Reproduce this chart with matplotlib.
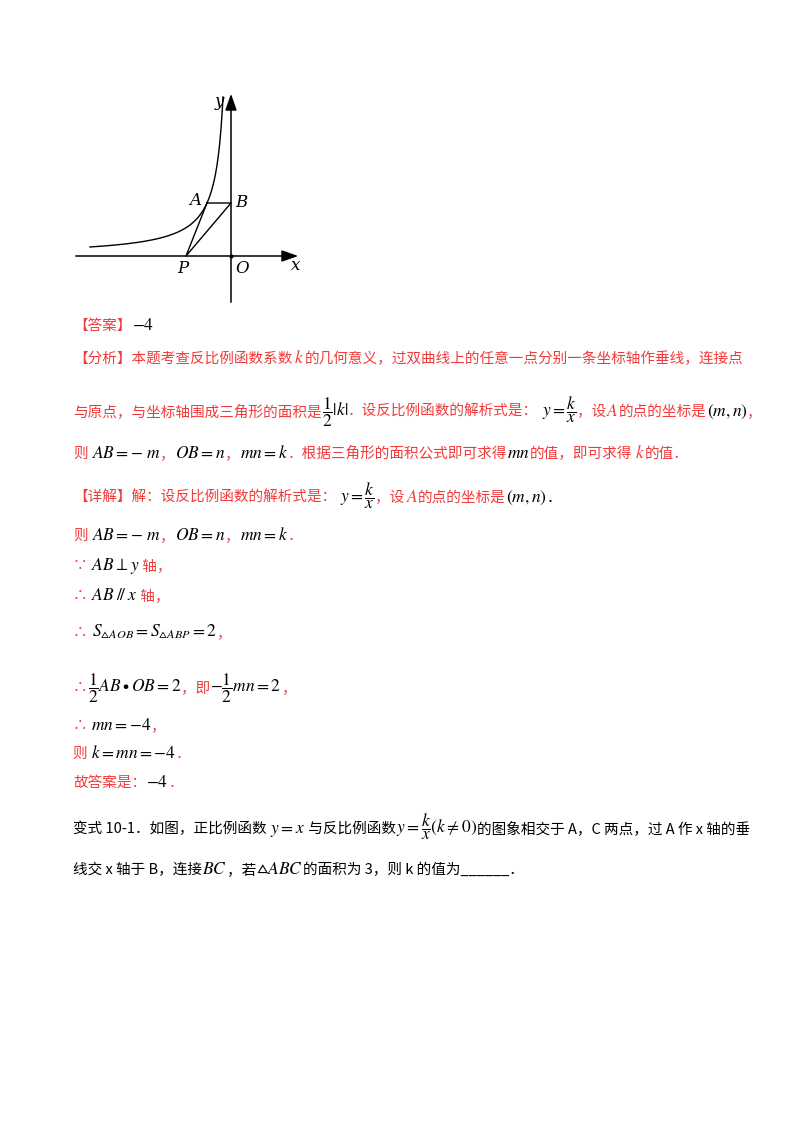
import numpy as np
import matplotlib
matplotlib.use("Agg")
import matplotlib.pyplot as plt

plt.rcParams['font.family'] = ['Noto Sans CJK SC', 'DejaVu Sans']
plt.rcParams['mathtext.fontset'] = 'stix'

# graph data (units: 1 = 10 px)
k_val = -12.72
curve_x = np.linspace(-14.1, -0.8, 200)
pt_names = ['A', 'B', 'P', 'O']
pt_x = [-2.4, 0.0, -4.5, 0.0]
pt_y = [5.3, 5.3, 0.0, 0.0]

RED = '#f23a3a'
BLK = 'black'

# text lines: (y pixel, [(text, colour), ...])
lines = [
    (330, [('【答案】', RED), (r'$-4$', BLK)]),
    (363, [('【分析】本题考查反比例函数系数', RED), (r'$\,k\,$', RED),
           ('的几何意义，过双曲线上的任意一点分别一条坐标轴作垂线，连接点', RED)]),
    (416, [('与原点，与坐标轴围成三角形的面积是', RED), (r'$\dfrac{1}{2}|k|$', BLK),
           ('．设反比例函数的解析式是：', RED), (r'$\ y=\dfrac{k}{x}$', BLK),
           ('，设', RED), (r'$A$', RED), ('的点的坐标是', RED), (r'$(m,n)$', BLK), ('，', RED)]),
    (458, [('则', RED), (r'$\ AB=-\ m$', BLK), ('，', RED), (r'$OB=n$', BLK), ('，', RED),
           (r'$mn=k$', BLK), ('．根据三角形的面积公式即可求得', RED), (r'$mn$', BLK),
           ('的值，即可求得', RED), (r'$\,k\,$', RED), ('的值．', RED)]),
    (502, [('【详解】解：设反比例函数的解析式是：', RED), (r'$\ y=\dfrac{k}{x}$', BLK),
           ('，设', RED), (r'$\,A\,$', RED), ('的点的坐标是', RED), (r'$(m,n)$', BLK), ('．', BLK)]),
    (540, [('则', RED), (r'$\ AB=-\ m$', BLK), ('，', RED), (r'$OB=n$', BLK), ('，', RED),
           (r'$mn=k$', BLK), ('．', RED)]),
    (570, [('∵ ', RED), (r'$AB\perp y$', BLK), (' 轴，', RED)]),
    (600, [('∴ ', RED), (r'$AB\;/\!/\;x$', BLK), (' 轴，', RED)]),
    (637, [('∴', RED), (r'$\ S_{\vartriangle AOB}=S_{\vartriangle ABP}=2$', BLK), ('，', RED)]),
    (692, [('∴', RED), (r'$\dfrac{1}{2}AB\bullet OB=2$', BLK), ('，即', RED),
           (r'$-\dfrac{1}{2}mn=2$', BLK), ('，', RED)]),
    (730, [('∴ ', RED), (r'$mn=-4$', BLK), ('，', RED)]),
    (758, [('则 ', RED), (r'$k=mn=-4$', BLK), ('．', RED)]),
    (787, [('故答案是：', RED), (r'$-4$', BLK), ('．', RED)]),
    (833, [('变式 10-1．如图，正比例函数 ', BLK), (r'$y=x$', BLK), (' 与反比例函数', BLK),
           (r'$y=\dfrac{k}{x}(k\neq 0)$', BLK),
           ('的图象相交于 A，C 两点，过 A 作 x 轴的垂', BLK)]),
    (874, [('线交 x 轴于 B，连接', BLK), (r'$BC$', BLK), ('，若', BLK), (r'$\vartriangle ABC$', BLK),
           ('的面积为 3，则 k 的值为______．', BLK)]),
]

fig = plt.figure(figsize=(8, 11.32), dpi=100)

# text layer in pixel coordinates
tax = fig.add_axes([0, 0, 1, 1])
tax.set_xlim(0, 800)
tax.set_ylim(1132, 0)
tax.axis('off')
renderer = fig.canvas.get_renderer()

for y, segs in lines:
    x = 73
    for s, c in segs:
        fs = 12.5 if s.startswith('$') else 10.5
        t = tax.text(x, y, s, color=c, fontsize=fs, va='baseline', ha='left')
        x += t.get_window_extent(renderer).width

# graph
gax = fig.add_axes([60 / 800, (1132 - 310) / 1132, 250 / 800, 225 / 1132])
gax.set_xlim(-17.1, 7.9)
gax.set_ylim(-5.4, 17.1)
gax.axis('off')
gax.annotate('', xy=(7.0, 0), xytext=(-15.8, 0),
             arrowprops=dict(arrowstyle='-|>,head_length=1.0,head_width=0.35', color='black', lw=1.1))
gax.annotate('', xy=(0, 16.5), xytext=(0, -4.9),
             arrowprops=dict(arrowstyle='-|>,head_length=1.0,head_width=0.35', color='black', lw=1.1))
gax.plot(curve_x, k_val / curve_x, color='black', lw=1.0)
ax_, bx_, px_ = pt_x[0], pt_x[1], pt_x[2]
ay_, by_, py_ = pt_y[0], pt_y[1], pt_y[2]
gax.plot([ax_, bx_, px_, ax_], [ay_, by_, py_, ay_], color='black', lw=1.0)
gax.plot([0], [0], 'o', color='black', ms=2)
sty = dict(fontsize=12, family='DejaVu Serif', style='italic')
gax.text(ax_ - 0.6, ay_ + 0.2, 'A', ha='right', va='center', **sty)
gax.text(bx_ + 0.4, by_, 'B', ha='left', va='center', **sty)
gax.text(px_ - 0.3, -1.3, 'P', ha='center', va='center', **sty)
gax.text(0.4, -1.3, 'O', ha='left', va='center', **sty)
gax.text(6.0, -1.0, 'x', ha='left', va='center', **sty)
gax.text(-1.2, 15.5, 'y', ha='center', va='center', **sty)

fig.savefig('out.png', dpi=100)
